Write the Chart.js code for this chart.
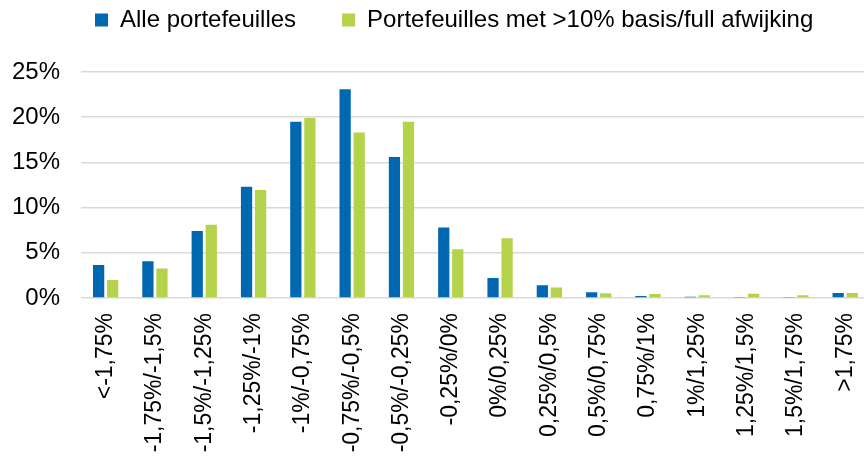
<!DOCTYPE html>
<html>
<head>
<meta charset="utf-8">
<script src="https://cdn.jsdelivr.net/npm/chart.js@4/dist/chart.umd.min.js"></script>
<style>
  html, body { margin: 0; padding: 0; background: #ffffff; overflow: hidden; }
  #wrap { width: 864px; height: 458px; overflow: hidden; }
  canvas { display: block; }
</style>
</head>
<body>
<div id="wrap"><canvas id="chart" width="880" height="458"></canvas></div>
<script>
// Afwijkingsklassen (x-as)
const categories = [
  '<-1,75%', '-1,75%/-1,5%', '-1,5%/-1,25%', '-1,25%/-1%', '-1%/-0,75%',
  '-0,75%/-0,5%', '-0,5%/-0,25%', '-0,25%/0%', '0%/0,25%', '0,25%/0,5%',
  '0,5%/0,75%', '0,75%/1%', '1%/1,25%', '1,25%/1,5%', '1,5%/1,75%', '>1,75%'
];

// Aandeel portefeuilles per klasse, in procenten
const alleValues = [3.65, 4.06, 7.4, 12.3, 19.5, 23.1, 15.6, 7.8, 2.2, 1.4, 0.63, 0.22, 0.15, 0.1, 0.05, 0.55];
const afwijkingValues = [2.0, 3.25, 8.1, 11.95, 19.9, 18.3, 19.5, 5.4, 6.6, 1.15, 0.52, 0.44, 0.3, 0.48, 0.3, 0.55];

const seriesNames = ['Alle portefeuilles', 'Portefeuilles met >10% basis/full afwijking'];
const yTicks = [0, 5, 10, 15, 20, 25];

const FONT = "'Liberation Sans', Arial, Helvetica, sans-serif";

// Legend band: fixed height above the plot, items shifted right and up
const legendPlacement = {
  id: 'legendPlacement',
  beforeLayout(chart) {
    const lg = chart.legend;
    if (lg && !lg._fixedFit) {
      const baseFit = lg.fit;
      lg.fit = function () {
        baseFit.call(this);
        this.height = 72;
      };
      lg._fixedFit = true;
    }
  },
  afterLayout(chart) {
    const lg = chart.legend;
    if (lg) {
      lg.left = 49;
      lg.right = 1000;
      lg.top = -38;
    }
  }
};

new Chart(document.getElementById('chart'), {
  type: 'bar',
  data: {
    labels: categories,
    datasets: [
      {
        label: seriesNames[0],
        data: alleValues,
        backgroundColor: '#0067B1',
        borderWidth: 0,
        categoryPercentage: 0.57,
        barPercentage: 0.8
      },
      {
        label: seriesNames[1],
        data: afwijkingValues,
        backgroundColor: '#B4D34A',
        borderWidth: 0,
        categoryPercentage: 0.57,
        barPercentage: 0.8
      }
    ]
  },
  options: {
    responsive: false,
    animation: false,
    devicePixelRatio: 1,
    layout: { padding: { top: 0, left: 0, right: 7, bottom: 0 } },
    plugins: {
      tooltip: { enabled: false },
      legend: {
        display: true,
        position: 'top',
        align: 'start',
        labels: {
          boxWidth: 13,
          boxHeight: 13,
          padding: 46,
          color: '#000000',
          font: { family: FONT, size: 24 }
        }
      }
    },
    scales: {
      x: {
        grid: { display: false },
        border: { display: false },
        ticks: {
          autoSkip: false,
          maxRotation: 90,
          minRotation: 90,
          padding: 7,
          color: '#000000',
          font: { family: FONT, size: 23 }
        },
        afterFit(scale) { scale.height = 160; }
      },
      y: {
        min: 0,
        max: 25,
        afterBuildTicks(scale) { scale.ticks = yTicks.map(v => ({ value: v })); },
        grid: { color: '#d9d9d9', lineWidth: 1.5, drawTicks: false },
        border: { display: false },
        ticks: {
          padding: 21,
          color: '#000000',
          font: { family: FONT, size: 24 },
          callback: v => v + '%'
        },
        afterFit(scale) { scale.width = 81; }
      }
    }
  },
  plugins: [legendPlacement]
});
</script>
</body>
</html>
